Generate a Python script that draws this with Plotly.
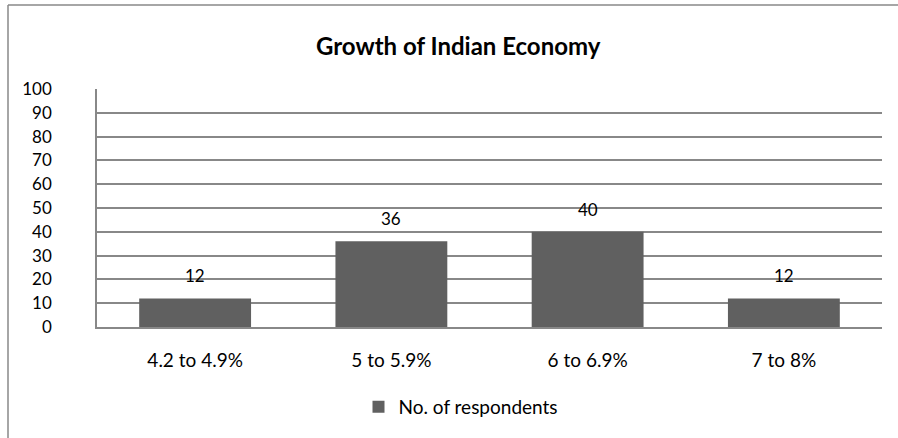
import plotly.graph_objects as go

categories = ["4.2 to 4.9%", "5 to 5.9%", "6 to 6.9%", "7 to 8%"]
respondents = [12, 36, 40, 12]
series_name = "No. of respondents"
title_text = "Growth of Indian Economy"
y_ticks = [0, 10, 20, 30, 40, 50, 60, 70, 80, 90, 100]

W, H = 898, 438
L, R, T, B = 97, 16, 89, 111
pw, ph = W - L - R, H - T - B

def px_x(p):
    return (p - L) / pw

def px_y(p):
    return (H - B - p) / ph

FONT = "Lato"
FS = 19
FN = 17
BAR = "#606060"
GRID = "#888888"

fig = go.Figure()
fig.add_trace(go.Bar(
    x=categories, y=respondents, name=series_name,
    marker=dict(color=BAR, line=dict(width=0)),
    showlegend=True,
))

annotations = []
for c, v in zip(categories, respondents):
    annotations.append(dict(x=c, y=v, xref="x", yref="y", text=str(v),
                            showarrow=False, yanchor="bottom", yshift=10,
                            font=dict(family=FONT, size=FN, color="#000000")))
annotations.append(dict(x=px_x(458), y=px_y(45), xref="paper", yref="paper",
                        text="<b>" + title_text + "</b>", showarrow=False,
                        xanchor="center", yanchor="middle",
                        font=dict(family=FONT, size=24, color="#000000")))

shapes = [
    dict(type="line", xref="paper", yref="paper", x0=px_x(8), x1=px_x(900),
         y0=px_y(5), y1=px_y(5), line=dict(color=GRID, width=1.5)),
    dict(type="line", xref="paper", yref="paper", x0=px_x(8), x1=px_x(8),
         y0=px_y(5), y1=px_y(440), line=dict(color=GRID, width=1.5)),
]

fig.update_layout(
    width=W, height=H,
    margin=dict(l=L, r=R, t=T, b=B, pad=0),
    paper_bgcolor="white", plot_bgcolor="white",
    bargap=0.43,
    font=dict(family=FONT, size=FS, color="#000000"),
    annotations=annotations,
    shapes=shapes,
    legend=dict(orientation="h", x=px_x(461), y=px_y(407),
                xanchor="center", yanchor="middle",
                font=dict(family=FONT, size=FS, color="#000000"),
                itemwidth=30, bgcolor="rgba(0,0,0,0)"),
)
fig.update_xaxes(
    type="category", showgrid=False, showline=True, linecolor=GRID, linewidth=1.5,
    ticks="", ticklabelstandoff=15, zeroline=False,
    tickfont=dict(family=FONT, size=FS, color="#000000"),
)
fig.update_yaxes(
    range=[0, 100], tickvals=y_ticks, showgrid=True, gridcolor=GRID, gridwidth=1.5,
    showline=True, linecolor=GRID, linewidth=1.5, ticks="", zeroline=False,
    ticklabelstandoff=40,
    tickfont=dict(family=FONT, size=FN, color="#000000"),
)

fig.write_html("out.html")
